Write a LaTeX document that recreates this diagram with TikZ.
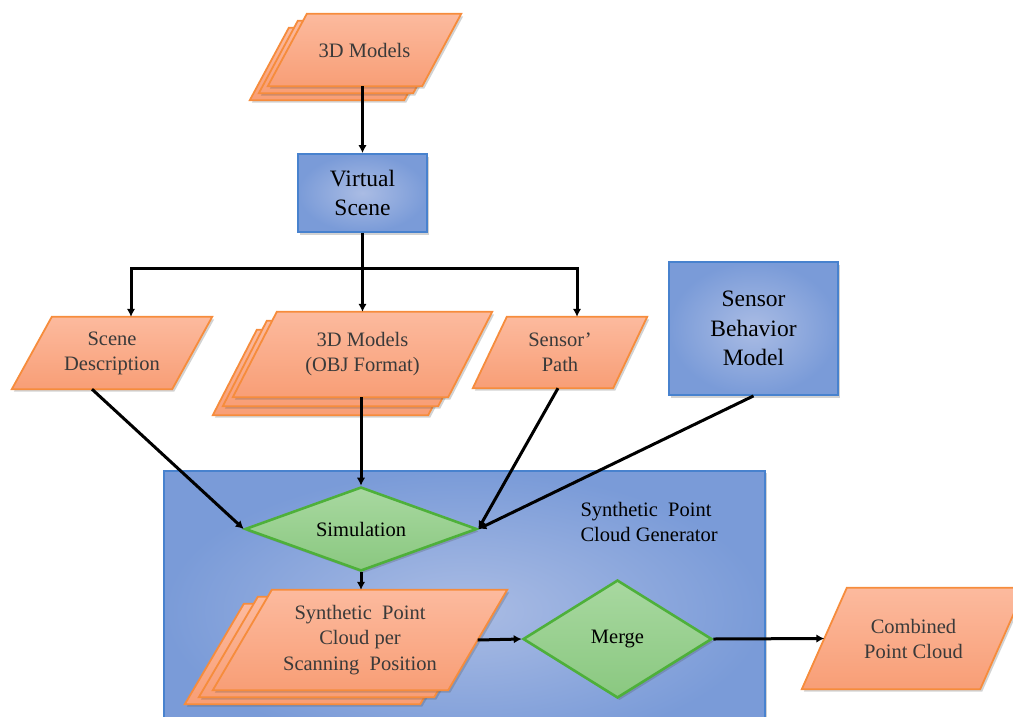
\documentclass[tikz,border=0pt]{standalone}
\usepackage{fontspec}
\setmainfont{Liberation Serif}
\usetikzlibrary{shapes.geometric,arrows.meta,shadows,calc,backgrounds}

\definecolor{orangeline}{RGB}{246,140,60}
\definecolor{orangetop}{RGB}{252,186,158}
\definecolor{orangebot}{RGB}{248,158,118}
\definecolor{blueline}{RGB}{72,130,206}
\definecolor{bluein}{RGB}{170,188,228}
\definecolor{blueout}{RGB}{122,155,216}
\definecolor{greenline}{RGB}{78,176,58}
\definecolor{greentop}{RGB}{168,216,160}
\definecolor{greenbot}{RGB}{138,200,128}
\definecolor{txtgray}{RGB}{58,58,58}

\tikzset{
  softshadow/.style={drop shadow={shadow xshift=2pt, shadow yshift=-2.5pt, opacity=0.25, fill=black!70}},
  lbl/.style={rectangle, inner sep=0pt, align=center, text=txtgray,
              font=\fontsize{20.5}{25}\selectfont},
  biglbl/.style={font=\fontsize{23.5}{29.5}\selectfont, text=black},
  smalllbl/.style={font=\fontsize{20.5}{25.5}\selectfont, text=black},
  parafill/.style={draw=orangeline, line width=1.8pt, line join=miter,
                   top color=orangetop, bottom color=orangebot, softshadow},
  bluebox/.style={rectangle, draw=blueline, line width=1.8pt, inner sep=0pt,
                  inner color=bluein, outer color=blueout, softshadow, align=center},
  decision/.style={diamond, draw=greenline, line width=2.6pt, inner sep=0pt,
                   top color=greentop, bottom color=greenbot, softshadow},
  arr/.style={-{Latex[length=8pt,width=8.5pt]}, line width=3pt, black},
  wire/.style={line width=3pt, black},
}

% Parallelogram (optionally stacked) behind a named text node:
% #1 node, #2 slant, #3 number of back sheets, #4 dx per sheet, #5 dy per sheet
\newcommand{\paraStack}[5]{%
  \begin{pgfonlayer}{background}
    \foreach \k in {#3,...,0}{
      \pgfmathsetmacro\ox{\k*(#4)}
      \pgfmathsetmacro\oy{\k*(#5)}
      \pgfmathsetmacro\ax{#2+\ox}
      \pgfmathsetmacro\bx{\ox-#2}
      \path[parafill]
        ($(#1.north west)+(\ax,\oy)$) -- ($(#1.north east)+(\ox,\oy)$) --
        ($(#1.south east)+(\bx,\oy)$) -- ($(#1.south west)+(\ox,\oy)$) -- cycle;
    }
  \end{pgfonlayer}}

\begin{document}
\begin{tikzpicture}[x=1pt, y=-1pt]
\useasboundingbox (0,0) rectangle (1013,716);

% generator frame
\begin{pgfonlayer}{background}
  \node[bluebox, anchor=north west, minimum width=601pt, minimum height=280pt]
    (gen) at (163,470) {};
\end{pgfonlayer}
\node[smalllbl, anchor=west, align=left] (genlbl) at (577,522)
  {Synthetic\ \ Point\\Cloud Generator};

% inputs
\node[lbl, minimum width=193pt, minimum height=72pt] (models) at (364.5,50) {3D Models};
\node[bluebox, biglbl, minimum width=129pt, minimum height=78pt] (vscene) at (362.5,193)
  {Virtual\\Scene};
\node[lbl, minimum width=200pt, minimum height=72pt] (scene) at (112,353)
  {Scene\\Description};
\node[lbl, minimum width=259pt, minimum height=85pt] (obj) at (362.5,354.5)
  {3D Models\\(OBJ Format)};
\node[lbl, minimum width=174pt, minimum height=71pt] (spath) at (560,352.5)
  {Sensor’\\Path};
\node[bluebox, biglbl, minimum width=169pt, minimum height=133pt] (sbm) at (753.5,328.5)
  {Sensor\\Behavior\\Model};

% processing
\node[decision, smalllbl, aspect=2.76, minimum width=232pt, minimum height=84pt] (sim) at (361,529)
  {Simulation};
\node[lbl, smalllbl, text=txtgray, minimum width=294pt, minimum height=100pt] (scp) at (360,640)
  {Synthetic\ \ Point\\Cloud per\\Scanning\ \ Position};
\node[decision, smalllbl, aspect=1.6, minimum width=189pt, minimum height=118pt] (merge) at (617.5,639)
  {Merge};
\node[lbl, minimum width=223pt, minimum height=101pt] (comb) at (913.5,638.5)
  {Combined\\Point Cloud};

% parallelogram outlines
\paraStack{models}{39}{2}{-9}{7}
\paraStack{scene}{40}{0}{0}{0}
\paraStack{obj}{44}{2}{-10}{9}
\paraStack{spath}{34}{0}{0}{0}
\paraStack{scp}{59}{2}{-14}{7}
\paraStack{comb}{45}{0}{0}{0}

% connectors
\draw[arr] (vscene.north |- models.south) -- (vscene.north);
\coordinate (split) at ($(vscene.south)+(0,36)$);
\draw[wire] (vscene.south) -- (split);
\draw[arr] (split) -| ($(scene.north)+(19,0)$);
\draw[arr] (split) -| ($(spath.north)+(17,0)$);
\draw[arr] (split) -- (split |- obj.north);

\draw[arr] ($(scene.south)-(20,0)$) -- (sim.west);
\draw[arr] (sim.north |- obj.south) -- (sim.north);
\draw[arr] ($(spath.south)-(2,0)$) -- (sim.east);
\draw[arr] (sbm.south) -- (sim.east);

\draw[arr] (sim.south) -- (sim.south |- scp.north);
\draw[arr] ($(scp.east)-(29.5,0)$) -- (merge.west);
\draw[arr] (merge.east) -- ($(comb.west)+(22.5,0)$);
\end{tikzpicture}
\end{document}
